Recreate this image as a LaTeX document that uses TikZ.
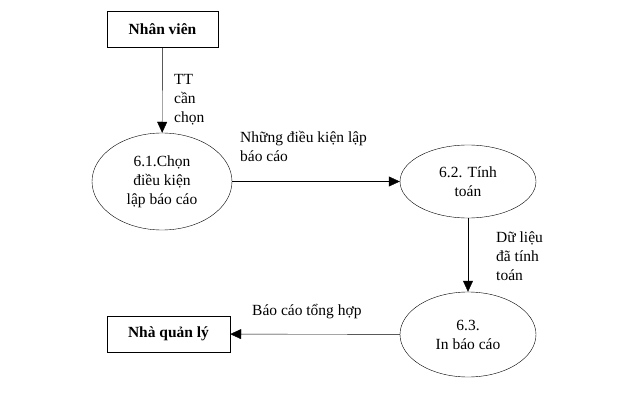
\documentclass[tikz,border=0pt]{standalone}
\usepackage{fontspec}
\setmainfont{Liberation Serif}
\usetikzlibrary{shapes.geometric,arrows.meta}

\tikzset{
  entity/.style={draw,minimum height=36pt,font=\fontsize{15.5}{19}\selectfont\bfseries},
  process/.style={draw,ellipse,inner sep=0,align=center},
  flowlabel/.style={anchor=north west,align=left,inner sep=0}
}

\begin{document}
\begin{tikzpicture}[x=1pt,y=-1pt,font=\fontsize{15.5}{19}\selectfont,
    >={Triangle[length=11pt,width=10pt]}]
  \useasboundingbox (0,0) rectangle (635,401);
  \begin{scope}
    \node[entity,minimum width=111pt] (nv) at (162.5,29.5) {Nhân viên};
    \node[entity,minimum width=123pt] (nql) at (168.5,334) {Nhà quản lý};
    \node[process,minimum width=140pt,minimum height=97pt] (p1) at (162,181.5) {6.1.Chọn\\điều kiện\\lập báo cáo};
    \node[process,minimum width=136pt,minimum height=73pt] (p2) at (468,181.5) {6.2. Tính\\toán};
    \node[process,minimum width=136pt,minimum height=85pt] (p3) at (468,334.5) {6.3.\\In báo cáo};
    \draw[->] (nv) -- (p1);
    \draw[->] (p1.east |- p2.west) -- (p2.west);
    \draw[->] (p2) -- (p3);
    \draw[->] (p3) -- (nql);
    \node[flowlabel] (l1) at (174,74) {TT\\cần\\chọn};
    \node[flowlabel] (l2) at (240,131) {Những điều kiện lập\\báo cáo};
    \node[flowlabel] (l3) at (496,232) {Dữ liệu\\đã tính\\toán};
    \node[flowlabel] (l4) at (252,304) {Báo cáo tổng hợp};
  \end{scope}
\end{tikzpicture}
\end{document}
